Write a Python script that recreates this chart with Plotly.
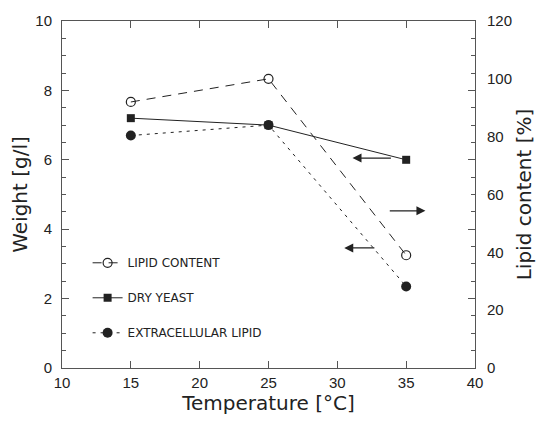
import plotly.graph_objects as go

temperature = [15, 25, 35]
lipid_content = [92, 100, 39]          # % (right axis)
dry_yeast = [7.2, 7.0, 6.0]            # g/l
extracellular_lipid = [6.7, 7.0, 2.35]  # g/l

x_ticks = [10, 15, 20, 25, 30, 35, 40]
y_ticks = [0, 2, 4, 6, 8, 10]
y2_ticks = [0, 20, 40, 60, 80, 100, 120]

# arrows: (tail_x, head_x, y) in data units of temperature / weight
arrows = [(34.0, 31.1, 6.05), (33.7, 36.4, 4.53), (32.8, 30.5, 3.46)]

FONT = "Liberation Sans"
TFONT = "DejaVu Sans"
INK = "#222222"
AX = "#555555"

fig = go.Figure()

fig.add_trace(go.Scatter(
    x=temperature, y=lipid_content, yaxis="y2", name="LIPID CONTENT",
    mode="lines+markers", legendgroup="a",
    line=dict(color=INK, width=1, dash="9px,7px"),
    marker=dict(symbol="circle-open", size=9, color=INK, line=dict(width=1.2))))
fig.add_trace(go.Scatter(
    x=temperature, y=dry_yeast, name="DRY YEAST",
    mode="lines+markers", legendgroup="b",
    line=dict(color=INK, width=1),
    marker=dict(symbol="square", size=8, color=INK)))
fig.add_trace(go.Scatter(
    x=temperature, y=extracellular_lipid, name="EXTRACELLULAR LIPID",
    mode="lines+markers", legendgroup="c",
    line=dict(color=INK, width=1, dash="3px,5px"),
    marker=dict(symbol="circle", size=10, color=INK)))

for tail, head, yv in arrows:
    fig.add_annotation(x=head, y=yv, ax=tail, ay=yv, xref="x", yref="y",
                       axref="x", ayref="y", text="", showarrow=True,
                       arrowhead=2, arrowsize=1.5, arrowwidth=1.2,
                       arrowcolor=INK)

fig.update_layout(
    width=543, height=421,
    margin=dict(l=62, r=68, t=16, b=53),
    paper_bgcolor="white", plot_bgcolor="white",
    font=dict(family=FONT, color=INK, size=15),
    showlegend=True,
    legend=dict(x=0.062, y=0.345, xanchor="left", yanchor="top",
                bgcolor="rgba(0,0,0,0)", font=dict(size=12, family=TFONT),
                tracegroupgap=16, itemwidth=30),
    xaxis=dict(range=[10, 40], tickvals=x_ticks, ticks="inside", ticklen=7,
               showline=True, linecolor=AX, linewidth=1, mirror="ticks",
               showgrid=False, zeroline=False, tickcolor=AX,
               ticklabelstandoff=1,
               title=dict(text="Temperature [°C]", font=dict(size=20, family=TFONT),
                          standoff=2)),
    yaxis=dict(range=[0, 10], tickvals=y_ticks, ticks="inside", ticklen=7,
               showline=True, linecolor=AX, linewidth=1, mirror="ticks",
               showgrid=False, zeroline=False, tickcolor=AX,
               ticklabelstandoff=6,
               minor=dict(dtick=0.5, ticks="inside", ticklen=4, tickcolor=AX),
               title=dict(text="Weight [g/l]", font=dict(size=20, family=TFONT),
                          standoff=2)),
    yaxis2=dict(range=[0, 120], tickvals=y2_ticks, overlaying="y", side="right",
                ticks="", showline=False,
                showgrid=False, zeroline=False, ticklabelstandoff=11,
                title=dict(text="Lipid content [%]", font=dict(size=20, family=TFONT),
                           standoff=5)),
)

fig.write_html("out.html")
